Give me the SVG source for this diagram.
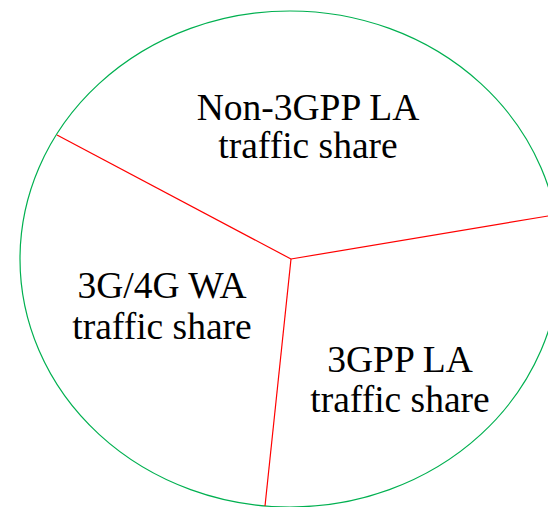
<svg xmlns="http://www.w3.org/2000/svg" width="548" height="507" viewBox="0 0 548 507">
  <style>
    .outline { fill: none; stroke: #00B050; stroke-width: 1.2; }
    .divider { fill: none; stroke: #FF0000; stroke-width: 1.2; }
    .label { font-family: "Liberation Serif", "Times New Roman", serif; font-size: 37.5px; fill: #000; text-anchor: middle; }
  </style>
  <rect width="548" height="507" fill="#fff"/>
  <g id="pie">
    <ellipse class="outline" cx="290" cy="259" rx="270" ry="248"/>
  </g>
  <g id="dividers">
    <line class="divider" x1="291" y1="259" x2="57" y2="135"/>
    <line class="divider" x1="291" y1="259" x2="560" y2="214"/>
    <line class="divider" x1="291" y1="259" x2="265" y2="506"/>
  </g>
  <g id="non-3gpp-la">
    <text class="label" x="308" y="120">Non-3GPP LA</text>
    <text class="label" x="308" y="158">traffic share</text>
  </g>
  <g id="wa-3g4g">
    <text class="label" x="162" y="298">3G/4G WA</text>
    <text class="label" x="162" y="339">traffic share</text>
  </g>
  <g id="3gpp-la">
    <text class="label" x="400" y="372">3GPP LA</text>
    <text class="label" x="400" y="412">traffic share</text>
  </g>
</svg>
